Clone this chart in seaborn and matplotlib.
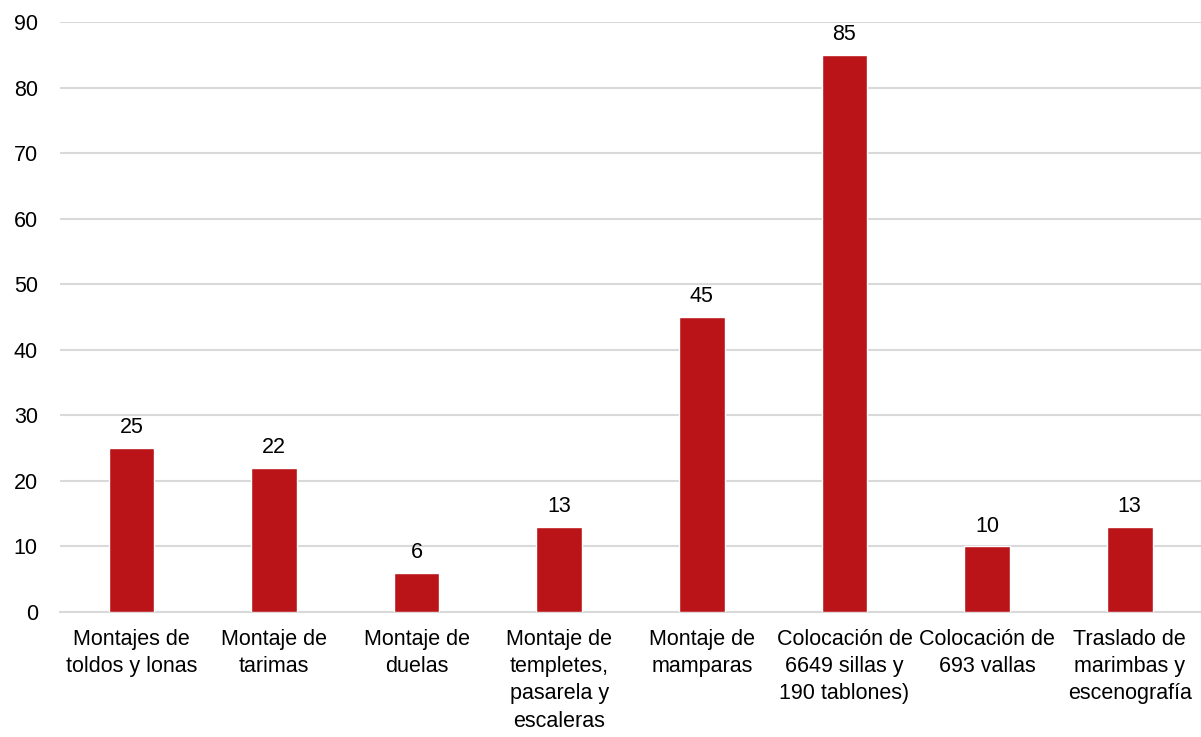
import matplotlib
matplotlib.use("Agg")
import matplotlib.pyplot as plt
import seaborn as sns
import pandas as pd

categories = [
    "Montajes de\ntoldos y lonas",
    "Montaje de\ntarimas",
    "Montaje de\nduelas",
    "Montaje de\ntempletes,\npasarela y\nescaleras",
    "Montaje de\nmamparas",
    "Colocación de\n6649 sillas y\n190 tablones)",
    "Colocación de\n693 vallas",
    "Traslado de\nmarimbas y\nescenografía",
]
values = [25, 22, 6, 13, 45, 85, 10, 13]
yticks = [0, 10, 20, 30, 40, 50, 60, 70, 80, 90]

sns.set_theme(style="white")
plt.rcParams['font.family'] = ['Liberation Sans', 'DejaVu Sans']

df = pd.DataFrame({"cat": categories, "val": values})
fig = plt.figure(figsize=(12.01, 7.37), dpi=100)
ax = fig.add_axes([0.05, 0.1696, 0.95, 0.8004])
sns.barplot(data=df, x="cat", y="val", color="#BA1419", width=0.32,
            saturation=1, ax=ax, zorder=3)
ax.set_ylim(0, 90)
ax.set_yticks(yticks)
ax.set_xlim(-0.5, len(categories) - 0.5)
ax.yaxis.grid(True, color="#D9D9D9", linewidth=1.5, zorder=0)
ax.set_axisbelow(True)
for s in ["top", "right", "left"]:
    ax.spines[s].set_visible(False)
ax.spines["bottom"].set_color("#D9D9D9")
ax.spines["bottom"].set_linewidth(1.5)
ax.set_xlabel("")
ax.set_ylabel("")
ax.tick_params(axis="both", length=0, labelsize=15.5, colors="black")
ax.tick_params(axis="y", pad=16)
ax.tick_params(axis="x", pad=12)
for lbl in ax.get_xticklabels():
    lbl.set_linespacing(1.4)
for c in ax.containers:
    ax.bar_label(c, labels=[str(v) for v in values], padding=7,
                 fontsize=15.5, color="black")
fig.savefig("out.png", dpi=100)
